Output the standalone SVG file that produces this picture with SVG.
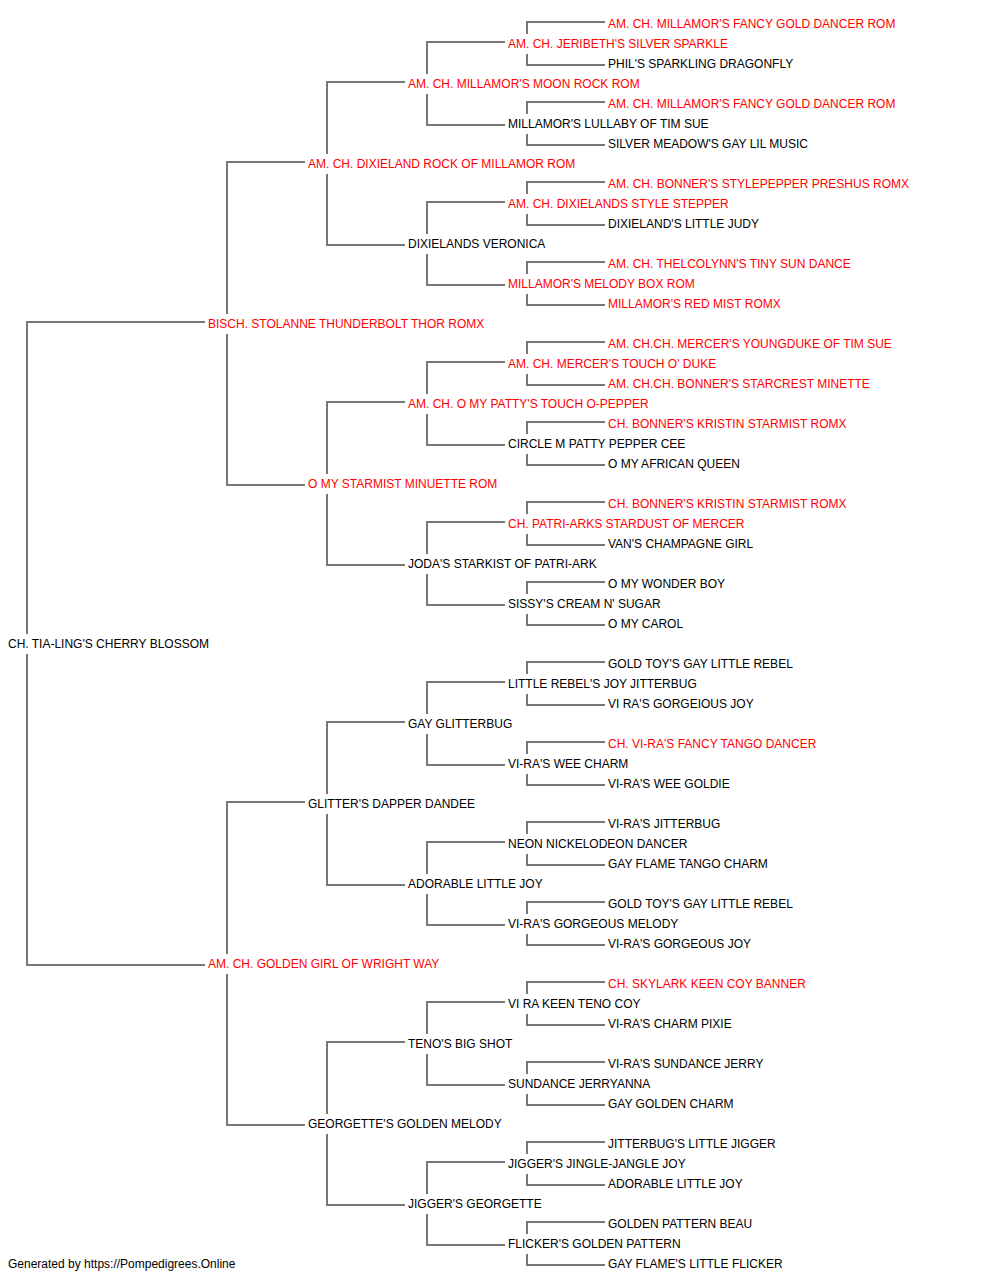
<svg xmlns="http://www.w3.org/2000/svg" width="1000" height="1280" viewBox="0 0 1000 1280">
<style>
text{font-family:"Liberation Sans",Arial,sans-serif;font-size:12px}
.r{fill:#ff0000}
.b{fill:#000000}
#connectors path{fill:none;stroke:#777777;stroke-width:2}
</style>
<rect width="1000" height="1280" fill="#ffffff"/>
<g id="connectors">
<path d="M205 322H27V634M27 654V965H205"/>
<path d="M305 162H227V314M227 334V485H305"/>
<path d="M305 802H227V954M227 974V1125H305"/>
<path d="M405 82H327V154M327 174V245H405"/>
<path d="M405 402H327V474M327 494V565H405"/>
<path d="M405 722H327V794M327 814V885H405"/>
<path d="M405 1042H327V1114M327 1134V1205H405"/>
<path d="M505 42H427V74M427 94V125H505"/>
<path d="M505 202H427V234M427 254V285H505"/>
<path d="M505 362H427V394M427 414V445H505"/>
<path d="M505 522H427V554M427 574V605H505"/>
<path d="M505 682H427V714M427 734V765H505"/>
<path d="M505 842H427V874M427 894V925H505"/>
<path d="M505 1002H427V1034M427 1054V1085H505"/>
<path d="M505 1162H427V1194M427 1214V1245H505"/>
<path d="M605 22H527V34M527 54V65H605"/>
<path d="M605 102H527V114M527 134V145H605"/>
<path d="M605 182H527V194M527 214V225H605"/>
<path d="M605 262H527V274M527 294V305H605"/>
<path d="M605 342H527V354M527 374V385H605"/>
<path d="M605 422H527V434M527 454V465H605"/>
<path d="M605 502H527V514M527 534V545H605"/>
<path d="M605 582H527V594M527 614V625H605"/>
<path d="M605 662H527V674M527 694V705H605"/>
<path d="M605 742H527V754M527 774V785H605"/>
<path d="M605 822H527V834M527 854V865H605"/>
<path d="M605 902H527V914M527 934V945H605"/>
<path d="M605 982H527V994M527 1014V1025H605"/>
<path d="M605 1062H527V1074M527 1094V1105H605"/>
<path d="M605 1142H527V1154M527 1174V1185H605"/>
<path d="M605 1222H527V1234M527 1254V1265H605"/>
</g>
<g id="n0"><text class="r" x="608" y="28">AM. CH. MILLAMOR'S FANCY GOLD DANCER ROM</text></g>
<g id="n1"><text class="r" x="508" y="48">AM. CH. JERIBETH'S SILVER SPARKLE</text></g>
<g id="n2"><text class="b" x="608" y="68">PHIL'S SPARKLING DRAGONFLY</text></g>
<g id="n3"><text class="r" x="408" y="88">AM. CH. MILLAMOR'S MOON ROCK ROM</text></g>
<g id="n4"><text class="r" x="608" y="108">AM. CH. MILLAMOR'S FANCY GOLD DANCER ROM</text></g>
<g id="n5"><text class="b" x="508" y="128">MILLAMOR'S LULLABY OF TIM SUE</text></g>
<g id="n6"><text class="b" x="608" y="148">SILVER MEADOW'S GAY LIL MUSIC</text></g>
<g id="n7"><text class="r" x="308" y="168">AM. CH. DIXIELAND ROCK OF MILLAMOR ROM</text></g>
<g id="n8"><text class="r" x="608" y="188">AM. CH. BONNER'S STYLEPEPPER PRESHUS ROMX</text></g>
<g id="n9"><text class="r" x="508" y="208">AM. CH. DIXIELANDS STYLE STEPPER</text></g>
<g id="n10"><text class="b" x="608" y="228">DIXIELAND'S LITTLE JUDY</text></g>
<g id="n11"><text class="b" x="408" y="248">DIXIELANDS VERONICA</text></g>
<g id="n12"><text class="r" x="608" y="268">AM. CH. THELCOLYNN'S TINY SUN DANCE</text></g>
<g id="n13"><text class="r" x="508" y="288">MILLAMOR'S MELODY BOX ROM</text></g>
<g id="n14"><text class="r" x="608" y="308">MILLAMOR'S RED MIST ROMX</text></g>
<g id="n15"><text class="r" x="208" y="328">BISCH. STOLANNE THUNDERBOLT THOR ROMX</text></g>
<g id="n16"><text class="r" x="608" y="348">AM. CH.CH. MERCER'S YOUNGDUKE OF TIM SUE</text></g>
<g id="n17"><text class="r" x="508" y="368">AM. CH. MERCER'S TOUCH O' DUKE</text></g>
<g id="n18"><text class="r" x="608" y="388">AM. CH.CH. BONNER'S STARCREST MINETTE</text></g>
<g id="n19"><text class="r" x="408" y="408">AM. CH. O MY PATTY'S TOUCH O-PEPPER</text></g>
<g id="n20"><text class="r" x="608" y="428">CH. BONNER'S KRISTIN STARMIST ROMX</text></g>
<g id="n21"><text class="b" x="508" y="448">CIRCLE M PATTY PEPPER CEE</text></g>
<g id="n22"><text class="b" x="608" y="468">O MY AFRICAN QUEEN</text></g>
<g id="n23"><text class="r" x="308" y="488">O MY STARMIST MINUETTE ROM</text></g>
<g id="n24"><text class="r" x="608" y="508">CH. BONNER'S KRISTIN STARMIST ROMX</text></g>
<g id="n25"><text class="r" x="508" y="528">CH. PATRI-ARKS STARDUST OF MERCER</text></g>
<g id="n26"><text class="b" x="608" y="548">VAN'S CHAMPAGNE GIRL</text></g>
<g id="n27"><text class="b" x="408" y="568">JODA'S STARKIST OF PATRI-ARK</text></g>
<g id="n28"><text class="b" x="608" y="588">O MY WONDER BOY</text></g>
<g id="n29"><text class="b" x="508" y="608">SISSY'S CREAM N' SUGAR</text></g>
<g id="n30"><text class="b" x="608" y="628">O MY CAROL</text></g>
<g id="n31"><text class="b" x="8" y="648">CH. TIA-LING'S CHERRY BLOSSOM</text></g>
<g id="n32"><text class="b" x="608" y="668">GOLD TOY'S GAY LITTLE REBEL</text></g>
<g id="n33"><text class="b" x="508" y="688">LITTLE REBEL'S JOY JITTERBUG</text></g>
<g id="n34"><text class="b" x="608" y="708">VI RA'S GORGEIOUS JOY</text></g>
<g id="n35"><text class="b" x="408" y="728">GAY GLITTERBUG</text></g>
<g id="n36"><text class="r" x="608" y="748">CH. VI-RA'S FANCY TANGO DANCER</text></g>
<g id="n37"><text class="b" x="508" y="768">VI-RA'S WEE CHARM</text></g>
<g id="n38"><text class="b" x="608" y="788">VI-RA'S WEE GOLDIE</text></g>
<g id="n39"><text class="b" x="308" y="808">GLITTER'S DAPPER DANDEE</text></g>
<g id="n40"><text class="b" x="608" y="828">VI-RA'S JITTERBUG</text></g>
<g id="n41"><text class="b" x="508" y="848">NEON NICKELODEON DANCER</text></g>
<g id="n42"><text class="b" x="608" y="868">GAY FLAME TANGO CHARM</text></g>
<g id="n43"><text class="b" x="408" y="888">ADORABLE LITTLE JOY</text></g>
<g id="n44"><text class="b" x="608" y="908">GOLD TOY'S GAY LITTLE REBEL</text></g>
<g id="n45"><text class="b" x="508" y="928">VI-RA'S GORGEOUS MELODY</text></g>
<g id="n46"><text class="b" x="608" y="948">VI-RA'S GORGEOUS JOY</text></g>
<g id="n47"><text class="r" x="208" y="968">AM. CH. GOLDEN GIRL OF WRIGHT WAY</text></g>
<g id="n48"><text class="r" x="608" y="988">CH. SKYLARK KEEN COY BANNER</text></g>
<g id="n49"><text class="b" x="508" y="1008">VI RA KEEN TENO COY</text></g>
<g id="n50"><text class="b" x="608" y="1028">VI-RA'S CHARM PIXIE</text></g>
<g id="n51"><text class="b" x="408" y="1048">TENO'S BIG SHOT</text></g>
<g id="n52"><text class="b" x="608" y="1068">VI-RA'S SUNDANCE JERRY</text></g>
<g id="n53"><text class="b" x="508" y="1088">SUNDANCE JERRYANNA</text></g>
<g id="n54"><text class="b" x="608" y="1108">GAY GOLDEN CHARM</text></g>
<g id="n55"><text class="b" x="308" y="1128">GEORGETTE'S GOLDEN MELODY</text></g>
<g id="n56"><text class="b" x="608" y="1148">JITTERBUG'S LITTLE JIGGER</text></g>
<g id="n57"><text class="b" x="508" y="1168">JIGGER'S JINGLE-JANGLE JOY</text></g>
<g id="n58"><text class="b" x="608" y="1188">ADORABLE LITTLE JOY</text></g>
<g id="n59"><text class="b" x="408" y="1208">JIGGER'S GEORGETTE</text></g>
<g id="n60"><text class="b" x="608" y="1228">GOLDEN PATTERN BEAU</text></g>
<g id="n61"><text class="b" x="508" y="1248">FLICKER'S GOLDEN PATTERN</text></g>
<g id="n62"><text class="b" x="608" y="1268">GAY FLAME'S LITTLE FLICKER</text></g>
<g id="footer"><text class="b" x="8" y="1268">Generated by https://Pompedigrees.Online</text></g>
</svg>
